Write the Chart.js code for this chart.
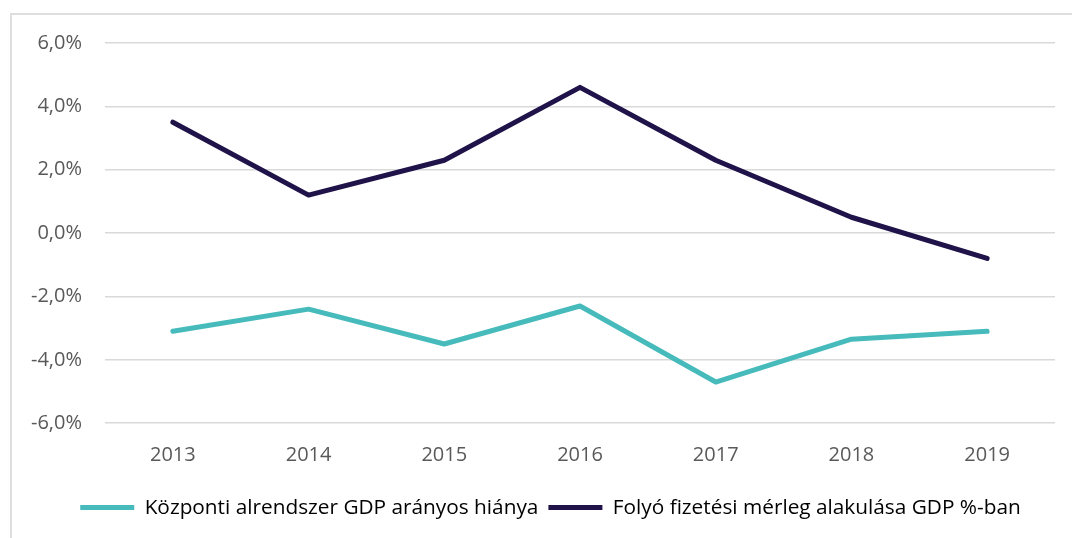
<!DOCTYPE html>
<html>
<head>
<meta charset="utf-8">
<script src="https://cdn.jsdelivr.net/npm/chart.js@4"></script>
<style>
  html, body { margin: 0; padding: 0; background: #fff; overflow: hidden; }
  #wrap { position: relative; width: 1072px; height: 538px; }
  #frame {
    position: absolute; left: 10px; top: 13px; width: 1100px; height: 600px;
    border: 2px solid #dedede; box-sizing: border-box;
  }
  #chartBox { position: absolute; left: 0; top: 0; width: 1072px; height: 538px; }
</style>
</head>
<body>
<div id="wrap">
  <div id="frame"></div>
  <div id="chartBox"><canvas id="gdpChart"></canvas></div>
</div>
<script>
const years = ['2013', '2014', '2015', '2016', '2017', '2018', '2019'];
const deficitValues = [-3.1, -2.4, -3.5, -2.3, -4.7, -3.35, -3.1];
const currentAccountValues = [3.5, 1.2, 2.3, 4.6, 2.3, 0.5, -0.8];
const seriesNames = ['Központi alrendszer GDP arányos hiánya', 'Folyó fizetési mérleg alakulása GDP %-ban'];
const yTicks = [-6, -4, -2, 0, 2, 4, 6];

const TEAL = '#47bbbc';
const NAVY = '#1f1349';
const TEXT = '#595959';
const GRID = '#d9d9d9';
const FONT = '"Open Sans", Lato, sans-serif';

// the original legend sits a little right of the canvas centre
const legendNudge = {
    id: 'legendNudge',
    afterLayout(chart) {
        chart.legend.left += 13;
        chart.legend.right += 13;
    }
};

function initChart() {
    const ctx = document.getElementById('gdpChart').getContext('2d');
    new Chart(ctx, {
        type: 'line',
        data: {
            labels: years,
            datasets: [
                {
                    label: seriesNames[0],
                    data: deficitValues,
                    borderColor: TEAL,
                    backgroundColor: TEAL,
                    borderWidth: 5,
                    borderCapStyle: 'round',
                    borderJoinStyle: 'round',
                    pointRadius: 0,
                    tension: 0
                },
                {
                    label: seriesNames[1],
                    data: currentAccountValues,
                    borderColor: NAVY,
                    backgroundColor: NAVY,
                    borderWidth: 5,
                    borderCapStyle: 'round',
                    borderJoinStyle: 'round',
                    pointRadius: 0,
                    tension: 0
                }
            ]
        },
        plugins: [legendNudge],
        options: {
            responsive: true,
            maintainAspectRatio: false,
            animation: false,
            layout: { padding: { left: 20, right: 17, top: 43, bottom: 10 } },
            scales: {
                x: {
                    offset: true,
                    grid: { display: false, drawTicks: false },
                    border: { display: false },
                    ticks: { color: TEXT, font: { family: FONT, size: 20 }, padding: 20 }
                },
                y: {
                    min: -6,
                    max: 6,
                    afterFit: scale => { scale.width = 85; },
                    afterBuildTicks: scale => { scale.ticks = yTicks.map(v => ({ value: v })); },
                    grid: { color: GRID, lineWidth: 1.5, drawTicks: false },
                    border: { display: false },
                    ticks: {
                        color: TEXT,
                        padding: 23,
                        font: { family: FONT, size: 20 },
                        callback: v => v.toFixed(1).replace('.', ',') + '%'
                    }
                }
            },
            plugins: {
                legend: {
                    position: 'bottom',
                    labels: {
                        color: TEXT,
                        font: { family: FONT, size: 20.8 },
                        boxWidth: 54,
                        boxHeight: 5,
                        padding: 10,
                        generateLabels: chart => chart.data.datasets.map((ds, i) => ({
                            text: ds.label,
                            fillStyle: ds.borderColor,
                            strokeStyle: ds.borderColor,
                            lineWidth: 0,
                            datasetIndex: i
                        }))
                    }
                },
                tooltip: { enabled: false }
            }
        }
    });
}

document.addEventListener('DOMContentLoaded', initChart);
</script>
</body>
</html>
